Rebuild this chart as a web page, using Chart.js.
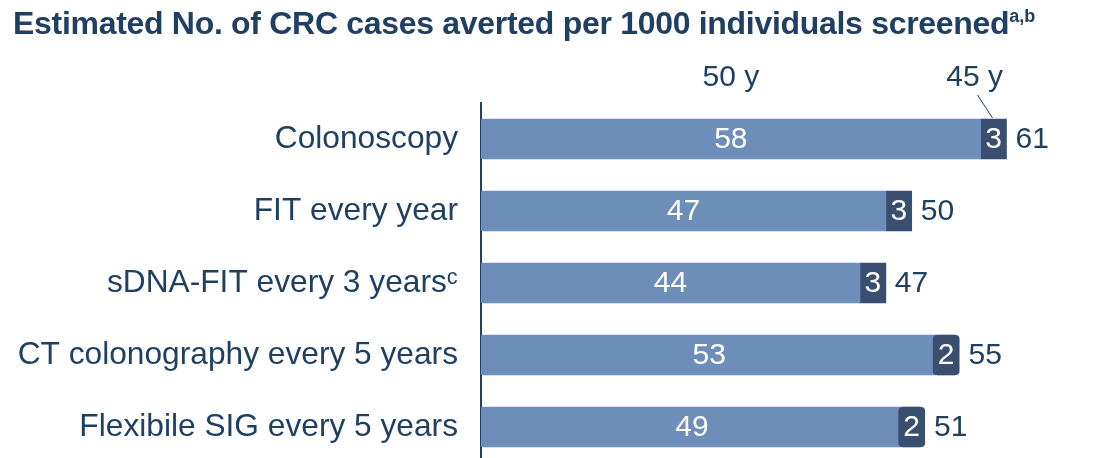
<!DOCTYPE html>
<html>
<head>
<meta charset="utf-8">
<script src="https://cdn.jsdelivr.net/npm/chart.js@4.4.1/dist/chart.umd.min.js"></script>
<style>
  html, body { margin: 0; padding: 0; background: #ffffff; overflow: hidden; width: 1094px; height: 458px; }
  #c { position: absolute; left: 0; top: 0; }
  #title { position: absolute; left: 13px; top: 5px; margin: 0; font-family: "Liberation Sans", Arial, sans-serif; font-weight: bold; font-size: 32px; color: #1f3f63; white-space: nowrap; letter-spacing: -0.3px; }
  #title sup { font-size: 18px; vertical-align: 0; position: relative; top: -12px; letter-spacing: 0; }
</style>
</head>
<body>
<canvas id="c" width="1094" height="463"></canvas>
<div id="title">Estimated No. of CRC cases averted per 1000 individuals screened<sup>a,b</sup></div>
<script>
const categories = ["Colonoscopy", "FIT every year", "sDNA-FIT every 3 years\u1D9C", "CT colonography every 5 years", "Flexibile SIG every 5 years"];
const start50 = [58, 47, 44, 53, 49];
const start45extra = [3, 3, 3, 2, 2];
const totals = [61, 50, 47, 55, 51];
const seriesNames = ["50 y", "45 y"];

const NAVY = "#1f3f63";
const LIGHT = "#6e8eba";
const DARK = "#394f6f";
const FONT = "'Liberation Sans', Arial, sans-serif";

const labelPlugin = {
  id: "labels",
  afterDatasetsDraw(chart) {
    const ctx = chart.ctx;
    const xs = chart.scales.x;
    const m0 = chart.getDatasetMeta(0);
    const m1 = chart.getDatasetMeta(1);
    ctx.save();
    ctx.textBaseline = "middle";
    ctx.font = "30px " + FONT;
    m0.data.forEach((bar, i) => {
      const cx = (bar.base + bar.x) / 2;
      ctx.fillStyle = "#ffffff";
      ctx.textAlign = "center";
      ctx.fillText(String(start50[i]), cx, bar.y + 1);
    });
    m1.data.forEach((bar, i) => {
      const cx = (bar.base + bar.x) / 2;
      const tw = ctx.measureText(String(start45extra[i])).width;
      const segW = Math.abs(bar.x - bar.base);
      let rightEdge = xs.getPixelForValue(totals[i]);
      if (segW < tw + 6) {
        const w = tw + 10, h = bar.height;
        const x = cx - w / 2, y = bar.y - h / 2;
        ctx.fillStyle = DARK;
        ctx.beginPath();
        if (ctx.roundRect) ctx.roundRect(x, y, w, h, 4); else ctx.rect(x, y, w, h);
        ctx.fill();
        rightEdge = Math.max(rightEdge, x + w);
      }
      ctx.fillStyle = "#ffffff";
      ctx.textAlign = "center";
      ctx.fillText(String(start45extra[i]), cx, bar.y + 1);
      ctx.fillStyle = NAVY;
      ctx.textAlign = "left";
      ctx.fillText(String(totals[i]), rightEdge + 9, bar.y + 1);
    });
    const b0 = m0.data[0], b1 = m1.data[0];
    ctx.fillStyle = NAVY;
    ctx.textAlign = "center";
    ctx.fillText(seriesNames[0], (b0.base + b0.x) / 2, 78);
    const c1 = (b1.base + b1.x) / 2;
    ctx.fillText(seriesNames[1], c1 - 19, 78);
    ctx.strokeStyle = NAVY;
    ctx.lineWidth = 1;
    ctx.beginPath();
    ctx.moveTo(c1 - 16, 95);
    ctx.lineTo(c1 - 1, 118);
    ctx.stroke();
    ctx.restore();
  }
};

new Chart(document.getElementById("c"), {
  type: "bar",
  data: {
    labels: categories,
    datasets: [
      { label: seriesNames[0], data: start50, backgroundColor: LIGHT, barThickness: 40, borderWidth: 0 },
      { label: seriesNames[1], data: start45extra, backgroundColor: DARK, barThickness: 40, borderWidth: 0 }
    ]
  },
  options: {
    indexAxis: "y",
    responsive: false,
    maintainAspectRatio: false,
    animation: false,
    devicePixelRatio: 1,
    layout: { padding: { top: 103, right: 10, bottom: 0, left: 0 } },
    plugins: { legend: { display: false }, tooltip: { enabled: false }, title: { display: false } },
    scales: {
      x: { stacked: true, display: false, min: 0, max: 70 },
      y: {
        stacked: true,
        afterFit(scale) { scale.width = 481; scale.paddingTop = 0; scale.paddingBottom = 0; },
        grid: { display: false, drawTicks: false },
        border: { display: true, color: NAVY, width: 2 },
        ticks: { color: NAVY, padding: 23, font: { family: FONT, size: 31.7 } }
      }
    }
  },
  plugins: [labelPlugin]
});
</script>
</body>
</html>
